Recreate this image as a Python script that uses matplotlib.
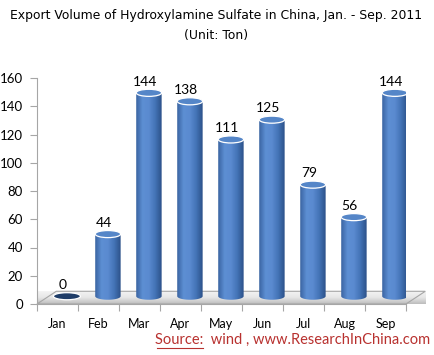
import numpy as np
import matplotlib.pyplot as plt
from matplotlib.patches import Ellipse, Polygon, PathPatch
from matplotlib.path import Path
from matplotlib.colors import LinearSegmentedColormap

# Data
months = ['Jan', 'Feb', 'Mar', 'Apr', 'May', 'Jun', 'Jul', 'Aug', 'Sep']
volume = [0, 44, 144, 138, 111, 125, 79, 56, 144]
y_ticks = [0, 20, 40, 60, 80, 100, 120, 140, 160]

title1 = 'Export Volume of Hydroxylamine Sulfate in China, Jan. - Sep. 2011'
title2 = '(Unit: Ton)'

# Pseudo-3D geometry (data units)
shift_x, shift_y = 0.23, 5.5      # cylinder offset into depth
depth_x, depth_y = 0.47, 9.0      # floor depth
half_w = 0.31
ell_h = 5.0

body_cmap = LinearSegmentedColormap.from_list(
    'cyl', ['#3a64a2', '#5d8fd3', '#5a8ad0', '#4373b6', '#2c5189'])
floor_cmap = LinearSegmentedColormap.from_list(
    'floor', ['#bdbdbd', '#e6e6e6', '#f4f4f4'])

fig = plt.figure(figsize=(4.35, 3.55), dpi=100)
ax = fig.add_axes([37 / 435, 51 / 355, 369 / 435, 226 / 355])
ax.set_xlim(0, 9)
ax.set_ylim(0, 160)

# Floor
floor_pts = [(0, 0), (9, 0), (9 + depth_x, depth_y), (depth_x, depth_y)]
floor = Polygon(floor_pts, closed=True, facecolor='none', edgecolor='#a6a6a6',
                lw=0.8, clip_on=False, zorder=2)
ax.add_patch(floor)
grad = np.linspace(0, 1, 64).reshape(-1, 1)
im = ax.imshow(grad, cmap=floor_cmap, extent=[0, 9 + depth_x, 0, depth_y],
               origin='lower', aspect='auto', zorder=1, clip_on=False)
im.set_clip_path(floor)

# Cylinders
theta = np.linspace(np.pi, 2 * np.pi, 40)
for i, v in enumerate(volume):
    cx = i + 0.5 + shift_x
    yb = shift_y
    yt = v + shift_y
    if v > 0:
        verts = [(cx - half_w, yt), (cx - half_w, yb)]
        verts += list(zip(cx + half_w * np.cos(theta), yb + ell_h / 2 * np.sin(theta)))
        verts += [(cx + half_w, yt), (cx - half_w, yt)]
        body = PathPatch(Path(verts), facecolor='none', edgecolor='none', zorder=3)
        ax.add_patch(body)
        g = np.linspace(0, 1, 64).reshape(1, -1)
        bim = ax.imshow(g, cmap=body_cmap,
                        extent=[cx - half_w, cx + half_w, yb - ell_h, yt],
                        aspect='auto', zorder=3)
        bim.set_clip_path(body)
        top = Ellipse((cx, yt), 2 * half_w, ell_h, facecolor='#5586c8',
                      edgecolor='white', lw=0.9, zorder=4)
        ax.add_patch(top)
    else:
        disc = Ellipse((cx, yb), 2 * half_w + 0.04, ell_h, facecolor='#1f3d68',
                       edgecolor='white', lw=0.9, zorder=4)
        ax.add_patch(disc)
    ax.text(i + 0.5 + 0.13, yt + 8, str(v), ha='center', va='center',
            fontsize=10, family='Lato', color='black', zorder=5)

# Axes styling
ax.set_aspect('auto')
for s in ['top', 'right']:
    ax.spines[s].set_visible(False)
for s in ['left', 'bottom']:
    ax.spines[s].set_color('#a6a6a6')
    ax.spines[s].set_linewidth(0.8)
ax.set_yticks(y_ticks)
ax.set_yticklabels([str(t) for t in y_ticks], fontsize=9.5, family='Lato')
ax.set_xticks(np.arange(10))
ax.set_xticklabels([])
ax.set_xticks(np.arange(9) + 0.5, minor=True)
ax.set_xticklabels(months, minor=True, fontsize=9, family='Lato')
ax.tick_params(axis='x', which='minor', length=0, pad=10)
ax.tick_params(axis='x', which='major', length=5, color='#a6a6a6')
ax.tick_params(axis='y', length=5, color='#a6a6a6', pad=5)

fig.text(0.497, 1 - 16 / 355, title1, ha='center', va='center', fontsize=8.9,
         family='DejaVu Sans')
fig.text(0.497, 1 - 36 / 355, title2, ha='center', va='center', fontsize=8.9,
         family='DejaVu Sans')

fig.text(0.988, 1 - 340 / 355, 'Source:  wind , www.ResearchInChina.com', ha='right',
         va='center', fontsize=10.5, family='Lato', color='#b8312f')
fig.add_artist(plt.Line2D([157 / 435, 203 / 435], [1 - 348 / 355, 1 - 348 / 355],
                          color='#b8312f', lw=0.8))

fig.savefig('out.png', dpi=100)
